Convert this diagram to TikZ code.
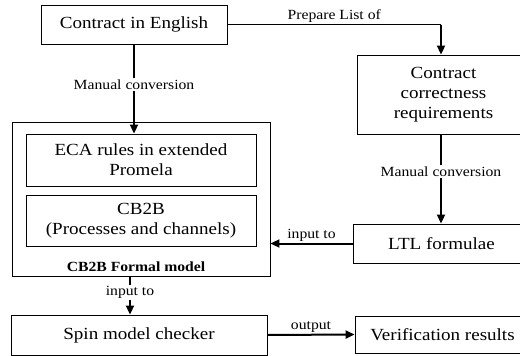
\documentclass[tikz,border=0pt]{standalone}
\usepackage{fontspec}
\setmainfont{Liberation Serif}[FakeStretch=1.12]
\usetikzlibrary{arrows.meta}
\tikzset{
  box/.style={draw, line width=0.9pt, inner sep=0pt, align=center, font=\fontsize{17}{20}\selectfont},
  lbl/.style={font=\fontsize{14}{16}\selectfont, inner sep=1.5pt},
  flow/.style={line width=2pt, -{Triangle[length=9pt,width=8pt]}}
}
\begin{document}
\begin{tikzpicture}[x=1pt,y=-1pt]
    \clip (0,0) rectangle (520,356);
    \node[box, minimum width=186pt, minimum height=39pt] (english) at (134,24.5) {Contract in English};
    \node[box, minimum width=173pt, minimum height=79pt] (reqs) at (443.5,94.5) {Contract\\correctness\\requirements};
    \node[box, minimum width=177pt, minimum height=39pt] (ltl) at (441.5,243.5) {LTL formulae};
    \node[box, minimum width=258pt, minimum height=154pt] (model) at (141,199) {};
    \node[box, minimum width=230pt, minimum height=52pt] (eca) at (141,160) {ECA rules in extended\\Promela};
    \node[box, minimum width=230pt, minimum height=51pt] (procs) at (141,220.5) {CB2B\\(Processes and channels)};
    \node[font=\fontsize{14}{16}\selectfont\bfseries] (modelname) at (136,267) {CB2B Formal model};
    \node[box, minimum width=256pt, minimum height=40pt] (spin) at (139,335) {Spin model checker};
    \node[box, minimum width=175pt, minimum height=37pt] (verif) at (442.5,334.5) {Verification results};
    \coordinate (turn) at (441,24.5);
    \draw[line width=0.9pt] (english.east) -- node[lbl, above] {Prepare List of} (turn);
    \draw[flow] (turn) -- (turn |- reqs.north);
    \draw[flow] (english.south) -- node[lbl, fill=white, pos=0.45] {Manual conversion} (english.south |- eca.north);
    \draw[flow] (turn |- reqs.south) -- node[lbl, fill=white, pos=0.42] {Manual conversion} (turn |- ltl.north);
    \draw[flow] (ltl.west) -- node[lbl, above] {input to} (ltl.west -| model.east);
    \draw[flow] ([xshift=-11pt]model.south) -- node[lbl, fill=white, pos=0.42] {input to} ([xshift=-11pt]model.south |- spin.north);
    \draw[flow] (spin.east) -- node[lbl, above] {output} (verif.west);
\end{tikzpicture}
\end{document}
